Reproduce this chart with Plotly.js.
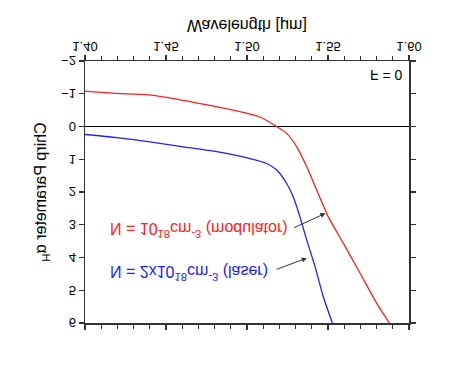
<!DOCTYPE html>
<html>
<head>
<meta charset="utf-8">
<script src="https://cdn.plot.ly/plotly-3.0.1.min.js"></script>
<style>
html,body{margin:0;padding:0;background:#fff;}
#chart{width:474px;height:366px;transform:scaleY(-1);transform-origin:50% 50%;}
</style>
</head>
<body>
<div id="chart"></div>
<script>
// Modulator, N = 1e18 cm^-3
const modWavelength = [1.400, 1.4196, 1.436, 1.4504, 1.471, 1.4916, 1.508, 1.5183, 1.5245, 1.5307, 1.5369, 1.5430, 1.5502, 1.5595, 1.5698, 1.5801, 1.5879];
const modAlpha      = [-1.08, -1.01, -0.98, -0.89, -0.70, -0.50, -0.29, 0.00, 0.21, 0.62, 1.23, 1.94, 2.76, 3.57, 4.48, 5.40, 6.00];
// Laser, N = 2e18 cm^-3
const laserWavelength = [1.400, 1.4196, 1.4401, 1.4607, 1.4813, 1.5019, 1.5122, 1.5183, 1.5245, 1.5286, 1.5327, 1.5369, 1.5420, 1.5471, 1.5527];
const laserAlpha      = [0.245, 0.34, 0.47, 0.62, 0.77, 0.98, 1.13, 1.33, 1.74, 2.15, 2.76, 3.47, 4.28, 5.20, 6.00];

const xTitle = 'Wavelength [μm]';
const yTitle = 'Chirp Parameter α<sub>H</sub>';
const modLabel = 'N = 10<sup>18</sup>cm<sup>-3</sup> (modulator)';
const laserLabel = 'N = 2x10<sup>18</sup>cm<sup>-3</sup> (laser)';
const fLabel = 'F = 0';

const font = 'Liberation Sans, Arial, sans-serif';
const axColor = '#333';

const traces = [
  {x: modWavelength, y: modAlpha, mode: 'lines', line: {color: '#ff2020', width: 1.3, shape: 'spline', smoothing: 0.6}, hoverinfo: 'skip'},
  {x: laserWavelength, y: laserAlpha, mode: 'lines', line: {color: '#2020ff', width: 1.3, shape: 'spline', smoothing: 0.6}, hoverinfo: 'skip'}
];

const layout = {
  width: 474, height: 366,
  margin: {l: 85, r: 65, t: 43, b: 61},
  paper_bgcolor: '#fff', plot_bgcolor: '#fff',
  showlegend: false,
  font: {family: font, color: '#000'},
  xaxis: {
    range: [1.40, 1.60], dtick: 0.05, tick0: 1.40, tickformat: '.2f',
    ticks: 'outside', ticklen: 5, tickwidth: 1.3, tickcolor: axColor,
    ticklabelstandoff: -3,
    minor: {dtick: 0.01, ticks: 'outside', ticklen: 4, tickwidth: 1.2, tickcolor: axColor, showgrid: false},
    showline: true, linecolor: axColor, linewidth: 1.5, mirror: 'ticks',
    showgrid: false, zeroline: false,
    tickfont: {size: 13, family: font},
    title: {text: xTitle, font: {size: 16, family: font}, standoff: 8}
  },
  yaxis: {
    range: [-2, 6], dtick: 1,
    ticks: 'outside', ticklen: 5, tickwidth: 1.3, tickcolor: axColor,
    showline: true, linecolor: axColor, linewidth: 1.5, mirror: 'ticks',
    showgrid: false, zeroline: true, zerolinecolor: '#000', zerolinewidth: 1.3,
    tickfont: {size: 13, family: font},
    title: {text: yTitle, font: {size: 16, family: font}, standoff: 10}
  },
  annotations: [
    {x: 1.5484, y: 2.65, ax: 1.5282, ay: 3.11, xref: 'x', yref: 'y', axref: 'x', ayref: 'y',
     showarrow: true, arrowhead: 2, arrowsize: 1, arrowwidth: 1, arrowcolor: '#333', text: ''},
    {x: 1.5369, y: 4.02, ax: 1.5173, ay: 4.38, xref: 'x', yref: 'y', axref: 'x', ayref: 'y',
     showarrow: true, arrowhead: 2, arrowsize: 1, arrowwidth: 1, arrowcolor: '#333', text: ''},
    {x: 1.4704, y: 3.16, xref: 'x', yref: 'y', showarrow: false, text: modLabel,
     font: {size: 16, color: '#ff2020', family: font}},
    {x: 1.4645, y: 4.48, xref: 'x', yref: 'y', showarrow: false, text: laserLabel,
     font: {size: 16, color: '#2020ff', family: font}},
    {x: 1.5864, y: -1.56, xref: 'x', yref: 'y', showarrow: false, text: fLabel,
     font: {size: 14, color: '#000', family: font}}
  ]
};

Plotly.newPlot('chart', traces, layout, {staticPlot: true, displayModeBar: false});
</script>
</body>
</html>
